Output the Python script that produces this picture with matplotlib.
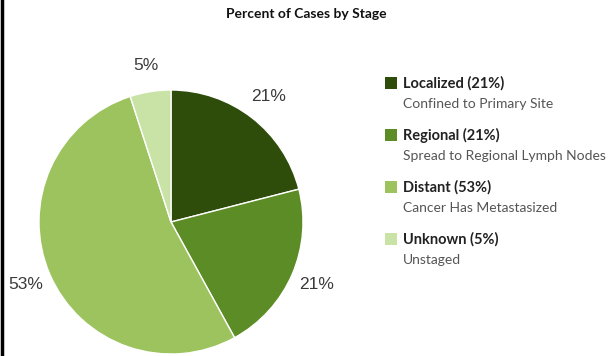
import matplotlib
matplotlib.use("Agg")
import matplotlib.pyplot as plt
from matplotlib.patches import Rectangle
from matplotlib.lines import Line2D

# Data
stages = ["Localized", "Regional", "Distant", "Unknown"]
percents = [21, 21, 53, 5]
descriptions = ["Confined to Primary Site", "Spread to Regional Lymph Nodes",
                "Cancer Has Metastasized", "Unstaged"]
colors = ["#2e4d0b", "#5c8c25", "#9cc35e", "#c9e3a6"]
title = "Percent of Cases by Stage"

W, H = 613, 356
fig = plt.figure(figsize=(W / 100, H / 100), dpi=100)
fig.patch.set_facecolor("white")

# pie axes: center (171, 222) px, radius 132 px
cx, cy, r = 171, 222, 132
ax = fig.add_axes([(cx - r) / W, (H - cy - r) / H, 2 * r / W, 2 * r / H])
ax.pie(percents, colors=colors, startangle=90, counterclock=False,
       autopct=lambda p: f"{p:.0f}%", pctdistance=1.2,
       wedgeprops=dict(edgecolor="white", linewidth=1),
       textprops=dict(fontsize=12.5, color="#3a3a3a", family="Liberation Sans"))
ax.set_xlim(-1, 1)
ax.set_ylim(-1, 1)
ax.axis("off")

fig.text(306 / W, 1 - 14 / H, title, ha="center", va="center",
         fontsize=10, fontweight="bold", family="Lato", color="#111111")

# legend
x0, y0, step = 385, 83, 52
for i, (s, p, d, c) in enumerate(zip(stages, percents, descriptions, colors)):
    y = y0 + i * step
    fig.patches.append(Rectangle((x0 / W, 1 - (y + 6) / H), 12 / W, 12 / H,
                                 transform=fig.transFigure, facecolor=c,
                                 edgecolor="none"))
    fig.text(403 / W, 1 - y / H, f"{s} ({p}%)", ha="left", va="center",
             fontsize=10.5, fontweight="bold", family="Lato", color="#222222")
    fig.text(403 / W, 1 - (y + 21) / H, d, ha="left", va="center",
             fontsize=10, family="Lato", color="#555555")

# left border line
fig.lines.append(Line2D([2 / W, 2 / W], [0, 1], transform=fig.transFigure,
                        color="black", linewidth=2.5))

fig.savefig("out.png", dpi=100)
